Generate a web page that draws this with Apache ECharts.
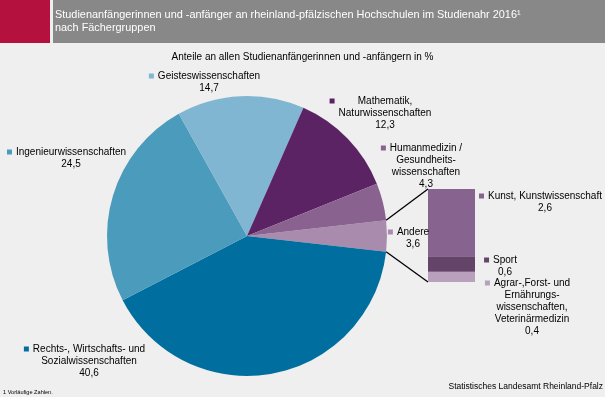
<!DOCTYPE html>
<html>
<head>
    <meta charset="utf-8">
    <title>Studienanfänger nach Fächergruppen</title>
    <style>
        html, body { margin: 0; padding: 0; background: #eeefee; }
        #chart { width: 605px; height: 397px; }
    </style>
    <script src="https://cdn.jsdelivr.net/npm/echarts@6/dist/echarts.min.js"></script>
</head>
<body>
<div id="chart"></div>
<script>
    // Kreis: Fächergruppen, im Uhrzeigersinn ab "Andere"
    const pieNames = ['Andere', 'Rechts-, Wirtschafts- und Sozialwissenschaften', 'Ingenieurwissenschaften',
        'Geisteswissenschaften', 'Mathematik, Naturwissenschaften', 'Humanmedizin / Gesundheitswissenschaften'];
    const pieLabels = [['Andere'], ['Rechts-, Wirtschafts- und', 'Sozialwissenschaften'], ['Ingenieurwissenschaften'],
        ['Geisteswissenschaften'], ['Mathematik,', 'Naturwissenschaften'], ['Humanmedizin /', 'Gesundheits-', 'wissenschaften']];
    const pieValues = [3.6, 40.6, 24.5, 14.7, 12.3, 4.3];

    // Säule: Aufteilung von "Andere", von unten nach oben
    const barNames = ['Agrar-, Forst- und Ernährungswissenschaften, Veterinärmedizin', 'Sport', 'Kunst, Kunstwissenschaft'];
    const barLabels = [['Agrar-,Forst- und', 'Ernährungs-', 'wissenschaften,', 'Veterinärmedizin'], ['Sport'], ['Kunst, Kunstwissenschaft']];
    const barValues = [0.4, 0.6, 2.6];

    const pieColors = ['#a98bad', '#006fa0', '#4b9bbd', '#80b6d2', '#5b2363', '#8a6290'];
    const barColors = ['#b9a0bd', '#654469', '#87638f'];

    // Lage der Beschriftungen (Mitte x, oberer Rand y)
    const pieLabelPos = [[413, 226], [89, 343], [71, 146], [209, 70], [385, 95], [426, 142]];
    const barLabelPos = [[532, 277], [505, 254], [545, 190]];

    const FONT = '"Liberation Sans", Arial, sans-serif';
    const pieCenter = [247, 236], pieRadius = 140;
    const gridLeft = 428, gridTop = 189, gridWidth = 47, gridHeight = 93;

    const total = pieValues.reduce((a, b) => a + b, 0);
    const startAngle = pieValues[0] / total * 180;   // "Andere" mittig rechts

    function fmt(v) {
        return v.toFixed(1).replace('.', ',');
    }

    function labelText(lines, value, sq) {
        let out = ['{' + sq + '|}{g|}{t|' + lines[0] + '}{p|}'];
        for (let i = 1; i < lines.length; i++) out.push('{p|}{t|' + lines[i] + '}{p|}');
        out.push('{p|}{t|' + fmt(value) + '}{p|}');
        return out.join('\n');
    }

    function richStyles(colors) {
        let rich = {
            t: { fontSize: 10, lineHeight: 12, color: '#000', fontFamily: FONT },
            p: { width: 9, lineHeight: 12, align: 'right' },
            g: { width: 4, lineHeight: 12, align: 'left' }
        };
        colors.forEach((c, i) => {
            rich['sq' + i] = { width: 5, height: 5, backgroundColor: c, lineHeight: 12, align: 'left' };
        });
        return rich;
    }

    const chart = echarts.init(document.getElementById('chart'));

    let series = [{
        type: 'pie',
        silent: true,
        center: pieCenter,
        radius: pieRadius,
        startAngle: startAngle,
        clockwise: true,
        avoidLabelOverlap: false,
        itemStyle: { borderWidth: 0 },
        labelLine: { show: false },
        label: {
            show: true,
            formatter: p => labelText(pieLabels[p.dataIndex], p.value, 'sq' + p.dataIndex),
            rich: richStyles(pieColors)
        },
        labelLayout: p => ({
            x: pieLabelPos[p.dataIndex][0], y: pieLabelPos[p.dataIndex][1],
            align: 'center', verticalAlign: 'top'
        }),
        data: pieNames.map((n, i) => ({ name: n, value: pieValues[i], itemStyle: { color: pieColors[i] } }))
    }];

    barNames.forEach((n, i) => {
        series.push({
            type: 'bar',
            name: n,
            stack: 'andere',
            silent: true,
            barWidth: '100%',
            itemStyle: { color: barColors[i] },
            label: {
                show: true,
                formatter: p => labelText(barLabels[i], p.value, 'sq' + i),
                rich: richStyles(barColors)
            },
            labelLayout: () => ({
                x: barLabelPos[i][0], y: barLabelPos[i][1],
                align: 'center', verticalAlign: 'top'
            }),
            data: [barValues[i]]
        });
    });

    chart.setOption({
        backgroundColor: '#eeefee',
        animation: false,
        textStyle: { fontFamily: FONT },
        title: {
            text: 'Anteile an allen Studienanfängerinnen und -anfängern in %',
            left: 'center',
            top: 47,
            textStyle: { fontSize: 10, fontWeight: 'normal', color: '#000', fontFamily: FONT }
        },
        grid: { left: gridLeft, top: gridTop, width: gridWidth, height: gridHeight },
        xAxis: { type: 'category', data: ['Andere'], show: false },
        yAxis: { type: 'value', min: 0, max: pieValues[0], show: false },
        series: series
    });

    // Kopfzeile, Fußzeile und Verbindungslinien
    const a = startAngle * Math.PI / 180;
    const ex = pieCenter[0] + pieRadius * Math.cos(a);
    const eyTop = pieCenter[1] - pieRadius * Math.sin(a);
    const eyBot = pieCenter[1] + pieRadius * Math.sin(a);
    const byTop = chart.convertToPixel({ yAxisIndex: 0 }, pieValues[0]);
    const byBot = chart.convertToPixel({ yAxisIndex: 0 }, 0);

    chart.setOption({
        graphic: [
            { type: 'rect', shape: { x: 0, y: 0, width: 50, height: 43 }, style: { fill: '#b5113e' } },
            { type: 'rect', shape: { x: 53, y: 0, width: 552, height: 43 }, style: { fill: '#888888' } },
            { type: 'text', x: 55, y: 15, style: { text: 'Studienanfängerinnen und -anfänger an rheinland-pfälzischen Hochschulen im Studienahr 2016¹',
                    fill: '#fff', font: '10.9px ' + FONT, textVerticalAlign: 'middle', verticalAlign: 'middle' } },
            { type: 'text', x: 55, y: 28, style: { text: 'nach Fächergruppen',
                    fill: '#fff', font: '10.9px ' + FONT, textVerticalAlign: 'middle', verticalAlign: 'middle' } },
            { type: 'text', x: 3, y: 392, style: { text: '1 Vorläufige Zahlen.',
                    fill: '#000', font: '5.6px ' + FONT, textVerticalAlign: 'middle', verticalAlign: 'middle' } },
            { type: 'text', x: 603, y: 387, style: { text: 'Statistisches Landesamt Rheinland-Pfalz',
                    fill: '#000', font: '8.5px ' + FONT, textAlign: 'right', align: 'right',
                    textVerticalAlign: 'middle', verticalAlign: 'middle' } },
            { type: 'line', shape: { x1: ex, y1: eyTop, x2: gridLeft, y2: byTop }, style: { stroke: '#000', lineWidth: 1.3 } },
            { type: 'line', shape: { x1: ex, y1: eyBot, x2: gridLeft, y2: byBot }, style: { stroke: '#000', lineWidth: 1.3 } }
        ]
    });
</script>
</body>
</html>
